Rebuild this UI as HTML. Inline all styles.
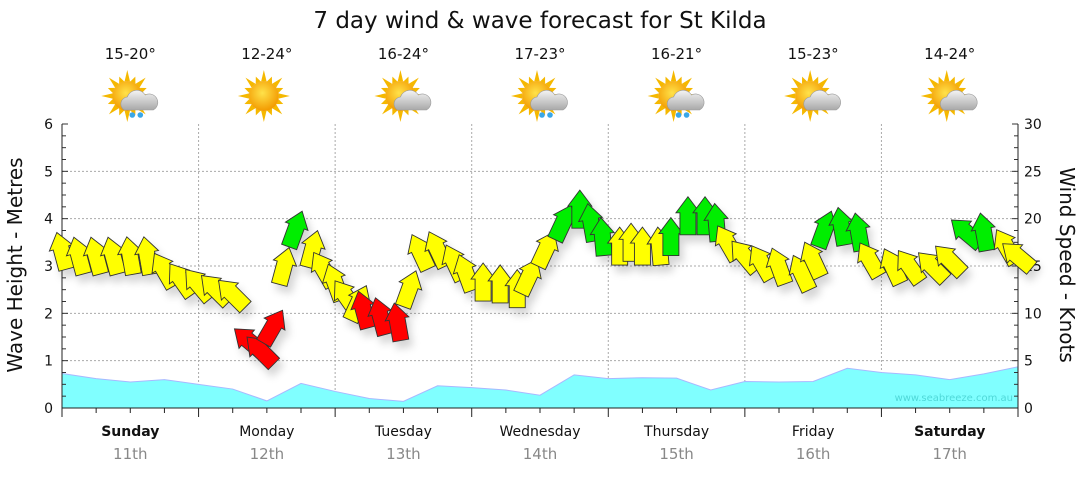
<!DOCTYPE html>
<html><head><meta charset="utf-8"><style>
body{margin:0;background:#fff;}
svg text{font-family:"DejaVu Sans","Liberation Sans",sans-serif;}
</style></head><body>
<svg id="chart" width="1080" height="475" viewBox="0 0 1080 475" xmlns="http://www.w3.org/2000/svg">
<defs>
<filter id="sh" x="-50%" y="-50%" width="200%" height="200%"><feDropShadow dx="4" dy="7" stdDeviation="4" flood-color="#000" flood-opacity="0.16"/></filter>
<radialGradient id="sunG" cx="45%" cy="40%" r="60%"><stop offset="0" stop-color="#ffe24a"/><stop offset="1" stop-color="#f39a00"/></radialGradient>
<linearGradient id="cloudG" x1="0" y1="0" x2="0" y2="1"><stop offset="0" stop-color="#f4f4f4"/><stop offset="1" stop-color="#a9a9a9"/></linearGradient>
</defs>
<text x="540" y="28" font-size="23" text-anchor="middle" fill="#111">7 day wind &amp; wave forecast for St Kilda</text>
<g id="grid"></g>
<g id="waves"></g>
<g id="axes"></g>
<g id="arrows" filter="url(#sh)"></g>
<g id="icons"></g>
<text x="1013" y="401" font-size="10" text-anchor="end" fill="#4fd8d8">www.seabreeze.com.au</text>
<text transform="translate(22,265) rotate(-90)" font-size="20" text-anchor="middle" fill="#111">Wave Height - Metres</text>
<text transform="translate(1060,265) rotate(90)" font-size="20" text-anchor="middle" fill="#111">Wind Speed - Knots</text>
</svg>
<script>
const days=["Sunday","Monday","Tuesday","Wednesday","Thursday","Friday","Saturday"];
const dates=["11th","12th","13th","14th","15th","16th","17th"];
const boldDays=[true,false,false,false,false,false,true];
const temps=["15-20°","12-24°","16-24°","17-23°","16-21°","15-23°","14-24°"];
const iconTypes=["rain","sun","cloud","rain","rain","cloud","cloud"];
const waveTicks=[0,1,2,3,4,5,6];
const windTicks=[0,5,10,15,20,25,30];
// wave height every 6 hours (m)
const waveHeights=[0.73,0.62,0.55,0.6,0.5,0.4,0.15,0.52,0.35,0.2,0.14,0.47,0.43,0.38,0.27,0.7,0.62,0.64,0.63,0.38,0.56,0.55,0.56,0.84,0.75,0.7,0.6,0.72,0.87];
// wind forecast: hours from Sunday 00:00, speed (knots), direction arrow points (deg, 0=up)
const windHours=[0,3,6,9,12,15,18,21,24,27,30,33,35,37,39,41,44,46,48,50,52,53,56,59,61,63,66,69,71,74,77,80,82,85,88,91,93,95,98,100,102,105,107,110,113,115,117,120,123,126,130,132,134,137,140,142,146,149,153,156,159,162,166,168];
const windSpeeds=[16.5,16,16,16,16,16,14.5,13.5,13,12.5,12,7,6,8.5,14.9,18.8,16.7,14.6,13.2,11.7,11,10.3,9.6,9,12.5,16.4,16.7,15.3,14.2,13.2,13,12.5,13.8,16.7,19.5,20.9,19.5,18,17,17.4,17,17,18,20.2,20.2,19.5,17.4,16,15.3,14.9,14.2,15.6,18.8,19.1,18.5,15.6,14.9,14.9,14.9,15.6,18.5,18.5,17,16];
const windDirs=[-15,-15,-15,-15,-10,-10,-30,-35,-40,-45,-45,-50,-45,30,15,20,15,-30,-20,-35,25,-15,-15,-10,20,-25,-25,-25,-20,0,0,0,25,25,25,0,-10,-5,0,0,0,-5,0,0,0,-5,-30,-40,-30,-20,-25,-25,20,-10,-10,-30,-25,-35,-45,-45,-50,-10,-30,-50,-55];
const NS="http://www.w3.org/2000/svg";
const X0=62,X1=1018,Y0=408,Y1=124;
const xH=h=>X0+h*(X1-X0)/168;
const yM=m=>Y0-m*(Y0-Y1)/6;
const yK=k=>Y0-k*(Y0-Y1)/30;
function mk(tag,attrs,parent){const e=document.createElementNS(NS,tag);for(const k in attrs)e.setAttribute(k,attrs[k]);parent.appendChild(e);return e;}
const grid=document.getElementById('grid'),axes=document.getElementById('axes');
waveTicks.forEach((t,i)=>{
  if(t>0&&t<6){const l=mk('line',{x1:X0,x2:X1,y1:yM(t),y2:yM(t),stroke:'#aaa','stroke-dasharray':'2,2'},grid);
  
  }
  const tl=mk('text',{x:X0-9,y:yM(t)+5,'font-size':14,'text-anchor':'end',fill:'#111'},axes);tl.textContent=t;
  
  
});
windTicks.forEach(t=>{
  const tl=mk('text',{x:X1+6,y:yK(t)+5,'font-size':14,fill:'#111'},axes);tl.textContent=t;
  
  
});
for(let i=0;i<=24;i++){const y=Y1+i*(Y0-Y1)/24;const len=(i%4==0)?6:4;
  mk('line',{x1:X0,x2:X0+len,y1:y,y2:y,stroke:'#333'},axes);
  mk('line',{x1:X1-len,x2:X1,y1:y,y2:y,stroke:'#333'},axes);}
for(let d=1;d<7;d++){const l=mk('line',{x1:xH(d*24),x2:xH(d*24),y1:Y1,y2:Y0,stroke:'#aaa','stroke-dasharray':'2,2'},grid);
  
  }
const wg=document.getElementById('waves');
let p=`M${X0},${Y0}`;waveHeights.forEach((w,i)=>{p+=` L${xH(i*6)},${yM(w)}`;});p+=` L${X1},${Y0} Z`;
const wa=mk('path',{d:p,fill:'#80ffff',stroke:'#a8b8ff','stroke-width':1},wg);


mk('line',{x1:X0,x2:X0,y1:Y1,y2:Y0,stroke:'#222'},axes);
mk('line',{x1:X1,x2:X1,y1:Y1,y2:Y0,stroke:'#222'},axes);
mk('line',{x1:X0,x2:X1,y1:Y0,y2:Y0,stroke:'#222'},axes);
for(let h=0;h<=168;h+=6){const len=(h%24==0)?9:5;mk('line',{x1:xH(h),x2:xH(h),y1:Y0,y2:Y0+len,stroke:'#222'},axes);}
days.forEach((d,i)=>{const cx=xH(i*24+12);
  const t=mk('text',{x:cx,y:436,'font-size':14,'text-anchor':'middle',fill:'#111','font-weight':boldDays[i]?'bold':'normal'},axes);t.textContent=d;
  
  
  const t2=mk('text',{x:cx,y:459,'font-size':15,'text-anchor':'middle',fill:'#888'},axes);t2.textContent=dates[i];
  
  
  const t3=mk('text',{x:cx,y:59,'font-size':15,'text-anchor':'middle',fill:'#111'},axes);t3.textContent=temps[i];
  
  
});
const ig=document.getElementById('icons');
iconTypes.forEach((tp,i)=>{const cx=xH(i*24+12)-3,cy=96;
  const g=mk('g',{},ig);
  
  
  for(let a=0;a<16;a++){const an=a*Math.PI/8;const r1=15,r2=(a%2?21:26);
    const px=cx+Math.cos(an)*r2,py=cy+Math.sin(an)*r2;
    const b1x=cx+Math.cos(an+0.18)*r1,b1y=cy+Math.sin(an+0.18)*r1,b2x=cx+Math.cos(an-0.18)*r1,b2y=cy+Math.sin(an-0.18)*r1;
    mk('polygon',{points:`${px},${py} ${b1x},${b1y} ${b2x},${b2y}`,fill:'#f5b800'},g);}
  mk('circle',{cx:cx,cy:cy,r:15,fill:'url(#sunG)'},g);
  if(tp!=='sun'){
    mk('path',{d:`M${cx-3},${cy+14} a7,7 0 0 1 3,-13 a10,10 0 0 1 18,-2 a8,8 0 0 1 8,15 Z`,fill:'url(#cloudG)',stroke:'#999','stroke-width':0.6},g);
    if(tp==='rain'){[[5,19],[13,19]].forEach(q=>mk('circle',{cx:cx+q[0],cy:cy+q[1],r:2.8,fill:'#3aa7e8'},g));}
  }
});
const ag=document.getElementById('arrows');
function col(s){return s<10.5?'#ff0000':(s>=18?'#00ee00':'#ffff00');}
windHours.forEach((h,i)=>{const x=xH(h),y=yK(windSpeeds[i]);
  const a=mk('path',{d:'M-8,18 L-8,-4 L-12,-4 L0,-20 L12,-4 L8,-4 L8,18 Z',fill:col(windSpeeds[i]),stroke:'#333','stroke-width':0.9,
    transform:`translate(${x},${y}) rotate(${windDirs[i]})`},ag);
  
  
});
</script>
</body></html>
